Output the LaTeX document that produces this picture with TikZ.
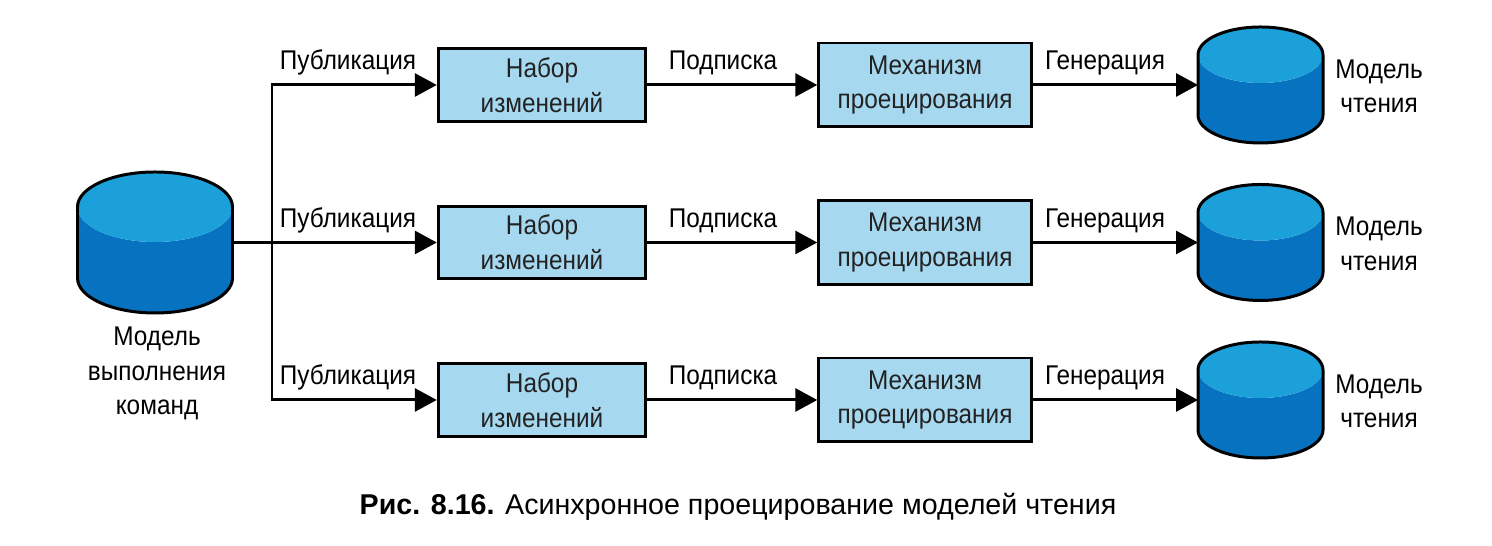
\documentclass[tikz,border=0pt]{standalone}
\usepackage{fontspec}
\setmainfont{Liberation Sans}[FakeStretch=0.9]
\newfontfamily\capfont{Liberation Sans}
\usetikzlibrary{arrows.meta}
\definecolor{stagefill}{RGB}{166,216,240}
\definecolor{stagetext}{RGB}{34,34,34}
\definecolor{dbtop}{RGB}{28,160,218}
\definecolor{dbbody}{RGB}{6,114,192}
\tikzset{
  stage/.style={draw, line width=1.7pt, fill=stagefill, text=stagetext, align=center, inner sep=0pt,
    font=\fontsize{15.4}{19.9}\selectfont},
  flow/.style={line width=1.7pt, -{Triangle[length=0.44cm,width=0.46cm]}},
  lbl/.style={font=\fontsize{15.4}{19.9}\selectfont, align=center, inner sep=0pt},
}
% drum: name, cx, cy, rx, ry, half height
\newcommand{\drum}[6]{%
  \fill[dbbody] (#2-#4,#3+#6) -- (#2-#4,#3-#6) arc[start angle=180,end angle=360,x radius=#4,y radius=#5]
    -- (#2+#4,#3+#6) arc[start angle=0,end angle=-180,x radius=#4,y radius=#5] -- cycle;
  \fill[dbtop] (#2,#3+#6) ellipse[x radius=#4,y radius=#5];
  \draw[line width=1.7pt] (#2-#4,#3+#6) -- (#2-#4,#3-#6) arc[start angle=180,end angle=360,x radius=#4,y radius=#5]
    -- (#2+#4,#3+#6) arc[start angle=0,end angle=180,x radius=#4,y radius=#5] -- cycle;
  \coordinate (#1-w) at (#2-#4,#3);
  \coordinate (#1-e) at (#2+#4,#3);
}
\begin{document}
\begin{tikzpicture}[x=0.02cm,y=0.02cm]
  \useasboundingbox (0,0) rectangle (1492,546);
  % command side
  \drum{cmd}{155}{303.5}{77.5}{35}{35.5}
  \node[lbl, anchor=base] (cmdlbl) at (157,131) {Модель\\выполнения\\команд};
  \coordinate (split) at (272,303.5);
  \draw[line width=1.7pt] (cmd-e) -- (split);
  % three projections
  \foreach \r/\y in {1/461,2/303.5,3/146} {
    \node[stage, minimum width=4.15cm, minimum height=1.45cm] (set\r) at (542,\y) {Набор\\изменений};
    \node[stage, minimum width=4.25cm, minimum height=1.68cm] (proj\r) at (925,\y) {Механизм\\проецирования};
    \drum{read\r}{1260.5}{\y}{62.5}{28}{30}
    \node[lbl, anchor=base west] (readlbl\r) at (1335,\y-28) {Модель\\чтения};
    \draw[flow] (split) |- (set\r.west);
    \draw[flow] (set\r) -- (proj\r);
    \draw[flow] (proj\r) -- (read\r-w);
    \node[lbl, anchor=base] (pub\r) at (348,\y+15) {Публикация};
    \node[lbl, anchor=base] (sub\r) at (723,\y+15) {Подписка};
    \node[lbl, anchor=base] (gen\r) at (1105,\y+15) {Генерация};
  }
  \node[lbl, anchor=base, font=\capfont\fontsize{16.3}{19}\selectfont] (caption) at (738,31)
    {\textbf{Рис. 8.16.} Асинхронное проецирование моделей чтения};
\end{tikzpicture}
\end{document}
